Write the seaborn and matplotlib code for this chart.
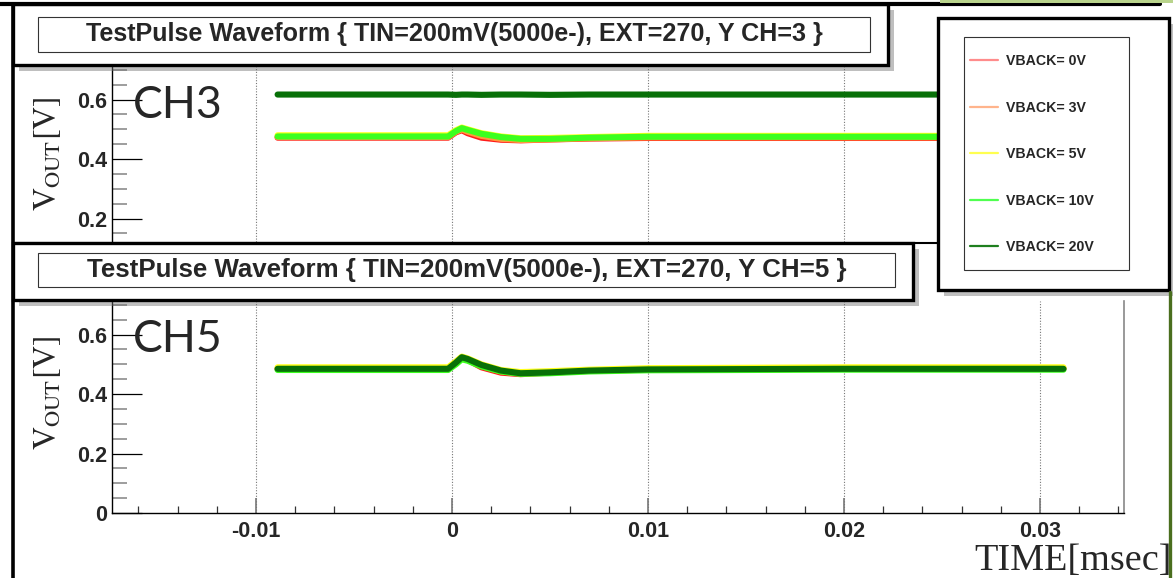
import pandas as pd
import matplotlib
matplotlib.use("Agg")
import matplotlib.pyplot as plt
import matplotlib.patheffects as pe
from matplotlib.patches import Rectangle
from matplotlib.lines import Line2D
from matplotlib.ticker import MultipleLocator
import seaborn as sns

W, H = 1173, 578

# ── traces (time in msec, VOUT in V) ─────────────────────────────────────
time_ms = [-0.0089, -0.0002, 0.0002, 0.0005, 0.0008, 0.0015, 0.0025,
           0.0035, 0.005, 0.007, 0.010, 0.020, 0.0312]
vback_labels = ["VBACK= 0V", "VBACK= 3V", "VBACK= 5V", "VBACK= 10V", "VBACK= 20V"]
vback_colors = ["#ff1a1a", "#ff9a3c", "#ffff1a", "#3cff1e", "#087008"]
legend_colors = ["#ff8c8c", "#ffb48c", "#ffff50", "#50ff50", "#1e7f1e"]

# CH3
ch3_0v  = [0.472, 0.472, 0.490, 0.497, 0.487, 0.472, 0.465, 0.463, 0.466, 0.469, 0.471, 0.471, 0.471]
ch3_3v  = [0.474, 0.474, 0.492, 0.500, 0.492, 0.478, 0.468, 0.464, 0.466, 0.470, 0.473, 0.473, 0.473]
ch3_5v  = [0.480, 0.480, 0.497, 0.506, 0.500, 0.487, 0.476, 0.470, 0.471, 0.474, 0.478, 0.478, 0.478]
ch3_10v = [0.476, 0.476, 0.494, 0.504, 0.498, 0.485, 0.474, 0.468, 0.468, 0.472, 0.475, 0.475, 0.475]
ch3_20v = [0.617, 0.617, 0.616, 0.617, 0.617, 0.616, 0.617, 0.617, 0.616, 0.617, 0.617, 0.617, 0.617]

# CH5
ch5_0v  = [0.484, 0.484, 0.505, 0.522, 0.515, 0.490, 0.472, 0.467, 0.472, 0.478, 0.482, 0.485, 0.485]
ch5_3v  = [0.486, 0.486, 0.507, 0.524, 0.517, 0.495, 0.476, 0.469, 0.473, 0.479, 0.484, 0.486, 0.486]
ch5_5v  = [0.490, 0.490, 0.510, 0.526, 0.520, 0.500, 0.481, 0.474, 0.477, 0.482, 0.487, 0.490, 0.490]
ch5_10v = [0.481, 0.481, 0.500, 0.517, 0.512, 0.493, 0.476, 0.468, 0.470, 0.476, 0.480, 0.482, 0.482]
ch5_20v = [0.485, 0.485, 0.506, 0.524, 0.518, 0.498, 0.479, 0.470, 0.473, 0.479, 0.483, 0.485, 0.485]

ch3 = [ch3_0v, ch3_3v, ch3_5v, ch3_10v, ch3_20v]
ch5 = [ch5_0v, ch5_3v, ch5_5v, ch5_10v, ch5_20v]


def long_df(series):
    rows = []
    for lab, vals in zip(vback_labels, series):
        for t, v in zip(time_ms, vals):
            rows.append({"time": t, "vout": v, "vback": lab})
    return pd.DataFrame(rows)


def fbox(x0, y0, x1, y1):
    # pixel box (top-left origin) -> figure fraction [l, b, w, h]
    return [x0 / W, 1 - y1 / H, (x1 - x0) / W, (y1 - y0) / H]


def fxy(x, y):
    return x / W, 1 - y / H


def tick_fmt(v, pos):
    return f"{v:g}" if abs(v) > 1e-9 else "0"


sns.set_theme(style="white")
plt.rcParams["font.family"] = ["Liberation Sans", "DejaVu Sans"]
plt.rcParams["mathtext.fontset"] = "stix"

fig = plt.figure(figsize=(W / 100, H / 100), dpi=100)
fig.patch.set_facecolor("white")

shadow = [pe.withSimplePatchShadow(offset=(4, -4), shadow_rgbFace="0.45", alpha=0.45)]


def style_axes(ax):
    ax.set_xlim(-0.01735, 0.03429)
    ax.set_ylim(0, 0.713)
    ax.xaxis.set_major_locator(MultipleLocator(0.01))
    ax.xaxis.set_minor_locator(MultipleLocator(0.002))
    ax.yaxis.set_major_locator(MultipleLocator(0.2))
    ax.yaxis.set_minor_locator(MultipleLocator(0.05))
    ax.xaxis.set_major_formatter(plt.FuncFormatter(tick_fmt))
    ax.yaxis.set_major_formatter(plt.FuncFormatter(tick_fmt))
    ax.tick_params(axis="y", which="major", direction="in", length=21.6, width=0.9,
                   color="black", labelsize=15.5, pad=3.4, left=True)
    ax.tick_params(axis="y", which="minor", direction="in", length=10.8, width=1.2,
                   color="#8c8c8c", left=True)
    ax.tick_params(axis="x", which="major", direction="in", length=10.8, width=1.2,
                   color="#777777", labelsize=15.5, pad=5.5, bottom=True)
    ax.tick_params(axis="x", which="minor", direction="in", length=5.4, width=0.9,
                   color="#333333", bottom=True)
    for lab in ax.get_xticklabels() + ax.get_yticklabels():
        lab.set_fontweight("bold")
    ax.xaxis.grid(True, which="major", linestyle=(0, (1, 1.5)), color="#777777", linewidth=0.8)
    ax.yaxis.grid(False)
    ax.spines["top"].set_visible(False)
    ax.spines["left"].set_color("black")
    ax.spines["left"].set_linewidth(1.0)
    ax.spines["bottom"].set_color("black")
    ax.spines["bottom"].set_linewidth(1.0)
    ax.spines["right"].set_color("#888888")
    ax.spines["right"].set_linewidth(1.2)
    ax.set_xlabel("")
    ax.set_ylabel("")


# ── top pad: CH3 ─────────────────────────────────────────────────────────
ax_top = fig.add_axes(fbox(112, 66, 1124, 278))
ax_top.set_zorder(1)
sns.lineplot(data=long_df(ch3), x="time", y="vout", hue="vback",
             hue_order=vback_labels, palette=vback_colors, linewidth=4.4,
             estimator=None, sort=False, legend=False, ax=ax_top)
style_axes(ax_top)
# lower part of this pad sits under the CH5 pad: no labels there
ax_top.tick_params(axis="x", labelbottom=False)
ax_top.yaxis.set_major_formatter(plt.FuncFormatter(lambda v, p: "" if v < 0.1 else f"{v:g}"))

# white sheet of the lower pad hides the bottom of the upper one
fig.add_artist(Rectangle(fxy(13, 578), (1173 - 13) / W, (578 - 243) / H,
                         transform=fig.transFigure, facecolor="white",
                         edgecolor="none", zorder=2))
fig.add_artist(Line2D([13 / W, 938 / W], [1 - 243 / H] * 2, transform=fig.transFigure,
                      color="black", linewidth=1.5, zorder=2.1))

# ── bottom pad: CH5 ──────────────────────────────────────────────────────
ax_bot = fig.add_axes(fbox(112, 301, 1124, 513))
ax_bot.set_zorder(3)
sns.lineplot(data=long_df(ch5), x="time", y="vout", hue="vback",
             hue_order=vback_labels, palette=vback_colors, linewidth=4.4,
             estimator=None, sort=False, legend=False, ax=ax_bot)
style_axes(ax_bot)

# ── title headers ────────────────────────────────────────────────────────
headers = [
    ((13, 4, 888, 65), (38, 17, 870, 52),
     "TestPulse Waveform { TIN=200mV(5000e-), EXT=270, Y CH=3 }", 18.1),
    ((13, 243, 913, 300), (38, 253, 895, 287),
     "TestPulse Waveform { TIN=200mV(5000e-), EXT=270, Y CH=5 }", 18.6),
]
for outer, inner, title, fs in headers:
    l, b, w, h = fbox(*outer)
    fig.add_artist(Rectangle((l, b), w, h, transform=fig.transFigure, facecolor="white",
                             edgecolor="black", linewidth=2.4, zorder=4, path_effects=shadow))
    l, b, w, h = fbox(*inner)
    fig.add_artist(Rectangle((l, b), w, h, transform=fig.transFigure, facecolor="none",
                             edgecolor="#333333", linewidth=0.8, zorder=4.1))
    fig.text(l + w / 2, b + h / 2, title, ha="center", va="center", fontsize=fs,
             fontweight="bold", zorder=4.2)

# ── legend box ───────────────────────────────────────────────────────────
l, b, w, h = fbox(938, 18, 1169, 290)
fig.add_artist(Rectangle((l, b), w, h, transform=fig.transFigure, facecolor="white",
                         edgecolor="black", linewidth=2.4, zorder=5, path_effects=shadow))
l, b, w, h = fbox(964, 37, 1129, 270)
fig.add_artist(Rectangle((l, b), w, h, transform=fig.transFigure, facecolor="none",
                         edgecolor="#333333", linewidth=0.8, zorder=5.1))
handles = [Line2D([], [], color=c, linewidth=1.6) for c in legend_colors]
leg = fig.legend(handles, vback_labels, loc="upper left", bbox_to_anchor=fxy(970, 54),
                 frameon=False, prop={"size": 10.2, "weight": "bold"}, handlelength=2.0,
                 handletextpad=0.55, labelspacing=2.3, borderpad=0, borderaxespad=0)
leg.set_zorder(6)

# ── labels ───────────────────────────────────────────────────────────────
for ylab_y, ch_y, ch in [(154, 106, "CH3"), (393, 340, "CH5")]:
    fig.text(*fxy(48, ylab_y), r"$\mathrm{V_{OUT}[V]}$", rotation=90, ha="center",
             va="center", fontsize=23, zorder=7)
    fig.text(*fxy(133, ch_y), ch, ha="left", va="center", fontsize=32,
             family=["Lato", "DejaVu Sans"], zorder=7)
fig.text(*fxy(974, 570), "TIME[msec]", ha="left", va="baseline", fontsize=27.5,
         family=["Liberation Serif", "DejaVu Serif"], zorder=7)

# ── slide frame edges ────────────────────────────────────────────────────
fig.add_artist(Line2D([0, 1160 / W], [1 - 4 / H] * 2, transform=fig.transFigure,
                      color="black", linewidth=3, zorder=8))
fig.add_artist(Line2D([13 / W] * 2, [0, 1 - 4 / H], transform=fig.transFigure,
                      color="black", linewidth=2.6, zorder=8))
fig.add_artist(Line2D([1170 / W] * 2, [0, 1 - 292 / H], transform=fig.transFigure,
                      color="#4a6e1e", linewidth=2.4, zorder=8))
fig.add_artist(Rectangle(fxy(940, 3), (1173 - 940) / W, 3 / H, transform=fig.transFigure,
                         facecolor="#b9d48c", edgecolor="none", zorder=8.1))

fig.savefig("out.png", dpi=100)
